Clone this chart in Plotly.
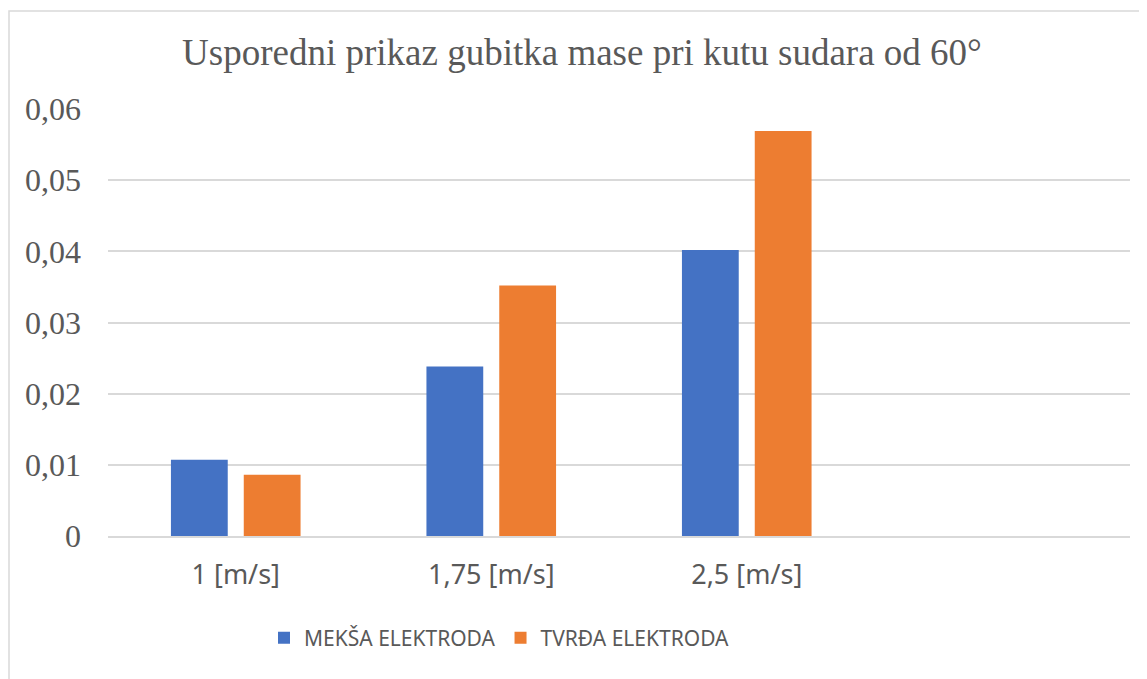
import plotly.graph_objects as go

# Data
categories = ["1 [m/s]", "1,75 [m/s]", "2,5 [m/s]", " "]
meksa = [0.0107, 0.0238, 0.0402, None]
tvrda = [0.0086, 0.0352, 0.0569, None]
y_ticks = [0, 0.01, 0.02, 0.03, 0.04, 0.05, 0.06]

W, H = 1147, 679
OFF = 8  # page body margin shifts the figure by 8px
plot_left, plot_right, plot_top, plot_bottom = 108 - OFF, 1130 - OFF, 109 - OFF, 536 - OFF
pw = plot_right - plot_left
ph = plot_bottom - plot_top


def px_x(x):
    return (x - OFF - plot_left) / pw


def px_y(y):
    return (plot_bottom - (y - OFF)) / ph


fig = go.Figure()
fig.add_trace(go.Bar(x=categories, y=meksa, name="MEKŠA ELEKTRODA",
                     marker=dict(color="#4472C4", line=dict(width=0))))
fig.add_trace(go.Bar(x=categories, y=tvrda, name="TVRĐA ELEKTRODA",
                     marker=dict(color="#ED7D31", line=dict(width=0))))

# Chart area border
fig.add_shape(type="rect", xref="paper", yref="paper",
              x0=px_x(9), x1=px_x(1170), y0=px_y(700), y1=px_y(11),
              line=dict(color="#D9D9D9", width=1.5), fillcolor="rgba(0,0,0,0)", layer="below")

fig.update_layout(
    width=W, height=H,
    margin=dict(l=plot_left, r=W - plot_right, t=plot_top, b=H - plot_bottom),
    paper_bgcolor="white", plot_bgcolor="white",
    separators=",.",
    barmode="group", bargap=0.43, bargroupgap=0.22,
    title=dict(text="Usporedni prikaz gubitka mase pri kutu sudara od 60°",
               font=dict(family="Liberation Serif", size=37, color="#595959"),
               xref="container", yref="container", x=(582 - OFF) / W, y=1 - (52 - OFF) / H,
               xanchor="center", yanchor="middle"),
    xaxis=dict(categoryorder="array", categoryarray=categories,
               showline=True, linecolor="#D9D9D9", linewidth=1.5,
               showgrid=False, ticks="", ticklabelstandoff=14,
               tickfont=dict(family="Noto Sans", size=27, color="#595959")),
    yaxis=dict(range=[0, 0.06], tickvals=y_ticks,
               showgrid=True, gridcolor="#D9D9D9", gridwidth=1.5,
               zeroline=False, showline=False, ticks="", ticklabelstandoff=26,
               tickfont=dict(family="Liberation Serif", size=32, color="#595959")),
    legend=dict(orientation="h", x=px_x(264), y=px_y(638),
                xanchor="left", yanchor="middle", itemwidth=30,
                font=dict(family="Noto Sans", size=21, color="#595959"),
                itemsizing="constant"),
    showlegend=True,
)

fig.write_html("out.html")
